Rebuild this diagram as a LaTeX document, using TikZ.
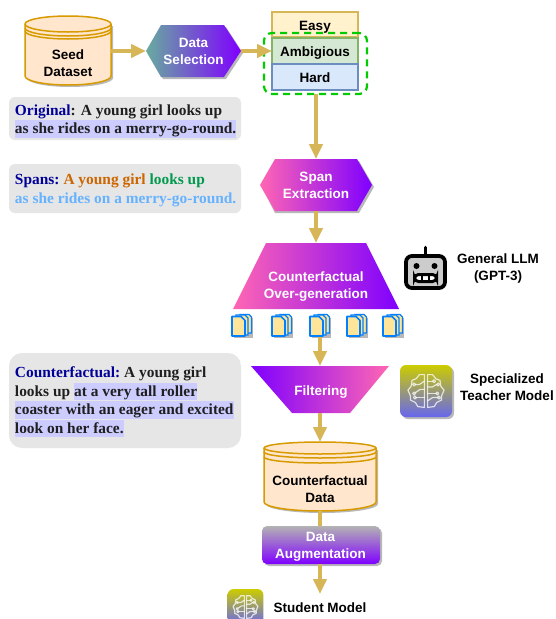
\documentclass[tikz,border=0pt]{standalone}
\usepackage{fontspec}
\setmainfont{Liberation Sans}
\newfontfamily\serifbf{Liberation Serif}[BoldFont={Liberation Serif Bold}]
\usetikzlibrary{arrows.meta,calc}
\definecolor{arrowc}{HTML}{D6B656}
\definecolor{cylfill}{HTML}{FFE6CC}
\definecolor{cylline}{HTML}{D79B00}
\definecolor{shad}{HTML}{B8B8B8}
\definecolor{pinkc}{HTML}{FF66B3}
\definecolor{purpc}{HTML}{7F00FF}
\definecolor{tealc}{HTML}{67AB9F}
\definecolor{panel}{HTML}{E6E6E6}
\definecolor{hl}{HTML}{CCCCFF}
\definecolor{navyc}{HTML}{000099}
\definecolor{orangec}{HTML}{CC6600}
\definecolor{greenc}{HTML}{00994D}
\definecolor{skyc}{HTML}{66B2FF}
\definecolor{inkc}{HTML}{1F1F1F}
\definecolor{docline}{HTML}{007FFF}
\definecolor{docfill}{HTML}{FFE599}
\definecolor{yel}{HTML}{CCCC00}
\definecolor{blu}{HTML}{6666EE}
\definecolor{augtop}{HTML}{B3B3B3}
\tikzset{
  x=1pt,y=-1pt,
  flow/.style={line width=4.3pt,draw=arrowc,-{Triangle[length=15pt,width=13pt]}},
  flowplain/.style={line width=4.3pt,draw=arrowc},
  box/.style={inner sep=0pt,outer sep=0pt},
  lbl/.style={inner sep=0pt,outer sep=0pt,align=center,font=\fontsize{13.5}{17}\selectfont\bfseries},
  wlbl/.style={lbl,text=white},
  tier/.style={lbl,line width=1.4pt,minimum width=86pt,text height=11pt,text depth=0pt},
  paneltxt/.style={anchor=base west,inner sep=0pt,outer sep=0pt,text=inkc,font=\fontsize{15.4}{18}\serifbf\bfseries},
  hlbox/.style={paneltxt,fill=hl,inner ysep=1pt,text depth=3pt,text height=12.5pt},
  panelbox/.style={fill=panel,rounded corners=#1},
  docicon/.pic={
    \fill[shad] (-8,-7) rectangle (11,13);
    \draw[docline,line width=1.4pt,fill=docfill] (-2,-10.5) -- (7,-10.5) -- (9.5,-8) -- (9.5,8) -- (-2,8) -- cycle;
    \draw[docline,line width=1.4pt,fill=docfill] (-6,-10) -- (3,-10) -- (6,-7) -- (6,10) -- (-6,10) -- cycle;
    \draw[docline,line width=1.7pt,fill=docfill,line join=round] (-10,-8.5) -- (-1,-8.5) -- (3,-4.5) -- (3,11) -- (-10,11) -- cycle;
  },
  brainicon/.pic={
    \shade[top color=yel,bottom color=blu,rounded corners=6pt] (-26,-26) rectangle (26,26);
    \begin{scope}[scale=.82,draw=white,draw opacity=.75,line width=1.2pt,line join=round,line cap=round]
      \draw (-2,-20) -- (-8,-20) -- (-12,-15) -- (-17,-13) -- (-18,-6) -- (-22,-1) -- (-19,6) -- (-19,11) -- (-13,14) -- (-10,19) -- (-2,20) -- cycle;
      \draw (2,-20) -- (8,-20) -- (12,-15) -- (17,-13) -- (18,-6) -- (22,-1) -- (19,6) -- (19,11) -- (13,14) -- (10,19) -- (2,20) -- cycle;
      \draw (-2,-12) -- (-8,-8) -- (-13,-8);
      \draw (-2,-2) -- (-7,-2) -- (-13,2);
      \draw (-2,8) -- (-6,8) -- (-12,8);
      \draw (2,-12) -- (8,-12);
      \draw (2,-5) -- (8,-5) -- (13,-8);
      \draw (2,3) -- (12,3);
      \draw (2,12) -- (8,8) -- (14,8);
      \draw[fill=none] (-14.5,-8) circle (1.8) (-14.5,3) circle (1.8) (-13.5,8) circle (1.8) (9.8,-12) circle (1.8) (14.8,-8) circle (1.8) (13.8,3) circle (1.8) (15.8,8) circle (1.8);
    \end{scope}
  },
}
\newcommand{\cyl}[7]{% left right top ellipsebottom ring1 ring2 bottom
  \pgfmathsetmacro{\cx}{(#1+#2)/2}\pgfmathsetmacro{\rx}{(#2-#1)/2}\pgfmathsetmacro{\ry}{(#4-#3)/2}\pgfmathsetmacro{\my}{(#3+#4)/2}\pgfmathsetmacro{\by}{#7-9}
  \fill[shad] (#1+2,\my+2) -- (#1+2,\by+2) arc[start angle=180,end angle=360,x radius=\rx,y radius=-9] -- (#2+2,\my+2) -- cycle;
  \draw[cylline,line width=1.5pt,fill=cylfill] (#1,\my) -- (#1,\by) arc[start angle=180,end angle=360,x radius=\rx,y radius=-9] -- (#2,\my) arc[start angle=0,end angle=180,x radius=\rx,y radius=\ry*-1] -- cycle;
  \draw[cylline,line width=1.5pt] (#1,\my) arc[start angle=180,end angle=360,x radius=\rx,y radius=-\ry];
  \draw[cylline,line width=1.5pt] (#1,#5-\ry) arc[start angle=180,end angle=360,x radius=\rx,y radius=-\ry];
  \draw[cylline,line width=1.5pt] (#1,#6-\ry) arc[start angle=180,end angle=360,x radius=\rx,y radius=-\ry];
}
\begin{document}
\begin{tikzpicture}
\useasboundingbox (0,0) rectangle (555,619);
\fill[white] (0,0) rectangle (555,619);

% text panels
\fill[panelbox=6pt] (9,97) rectangle (241,140);
\fill[panelbox=6pt] (9,164) rectangle (241,213);
\fill[panelbox=13pt] (9,353) rectangle (241,448);

% seed dataset
\cyl{25}{111}{16}{32}{36}{39}{85}
\node[box,minimum width=86pt,minimum height=70pt] (seed) at (68,51) {};
\node[lbl] (seedtxt) at (68,63.5) {Seed\\Dataset};

% data selection
\fill[shad] (148,53) -- (163,27) -- (226,27) -- (243,53) -- (226,79) -- (163,79) -- cycle;
\shade[left color=tealc,right color=purpc] (146,51) -- (161,25) -- (224,25) -- (241,51) -- (224,77) -- (161,77) -- cycle;
\node[box,minimum width=95pt,minimum height=52pt] (select) at (193.5,51) {};
\node[wlbl] (selecttxt) at (193.5,51.5) {Data\\Selection};

% difficulty boxes
\node[tier,draw={rgb,255:red,214;green,182;blue,86},fill={rgb,255:red,255;green,242;blue,204},minimum height=25pt] (easy) at (315,24.5) {Easy};
\node[tier,draw={rgb,255:red,130;green,179;blue,102},fill={rgb,255:red,213;green,232;blue,212},minimum height=26pt] (ambig) at (315,51) {Ambigious};
\node[tier,draw={rgb,255:red,108;green,142;blue,191},fill={rgb,255:red,218;green,232;blue,252},minimum height=26pt] (hard) at (315,77) {Hard};
\node[draw={rgb,255:red,0;green,204;blue,0},line width=2.2pt,dash pattern=on 7pt off 5pt,rounded corners=8pt,minimum width=103pt,minimum height=61pt,inner sep=0pt,outer sep=0pt] (group) at (315.5,63.5) {};

% span extraction
\fill[shad] (262,187) -- (275,161) -- (359,161) -- (374,187) -- (359,213) -- (275,213) -- cycle;
\shade[left color=pinkc,right color=purpc] (260,185) -- (275,159) -- (357,159) -- (372,185) -- (357,211) -- (275,211) -- cycle;
\node[box,minimum width=112pt,minimum height=52pt] (span) at (316,185) {};
\node[wlbl] (spantxt) at (316,185.5) {Span\\Extraction};

% over-generation
\shade[left color=pinkc,right color=purpc] (266,243) -- (366,243) -- (399,309) -- (233,309) -- cycle;
\node[box,minimum width=166pt,minimum height=66pt] (overgen) at (316,276) {};
\node[wlbl] (overgentxt) at (316,286.5) {Counterfactual\\Over-generation};

% documents
\pic at (242,325) {docicon};
\pic at (282,325) {docicon};
\pic at (320,325) {docicon};
\pic at (357,325) {docicon};
\pic at (393,325) {docicon};
\coordinate (docs) at (320,337);

% filtering
\shade[left color=purpc,right color=pinkc] (251,366) -- (389,366) -- (350,413) -- (292,413) -- cycle;
\node[box,minimum width=138pt,minimum height=47pt] (filter) at (320,389.5) {};
\node[wlbl] (filtertxt) at (321,392.5) {Filtering};

% counterfactual data
\cyl{264}{376}{442}{454}{458}{463}{511}
\node[box,minimum width=112pt,minimum height=69pt] (cfdata) at (320,476.5) {};
\node[lbl] (cfdatatxt) at (320,489.5) {Counterfactual\\Data};

% data augmentation
\fill[shad,rounded corners=5pt] (264,528) rectangle (382,566);
\shade[top color=augtop,bottom color=purpc,rounded corners=5pt] (262,526) rectangle (380,564);
\node[box,minimum width=118pt,minimum height=38pt] (aug) at (321,545) {};
\node[wlbl] (augtxt) at (320.5,547) {Data\\Augmentation};

% connectors
\coordinate (student) at (320,594);
\draw[flow] (seed.east) -- (select.west);
\draw[flow] (select.east) -- (ambig.west);
\draw[flow] (group.south -| span.north) -- (span.north);
\draw[flow] (span.south) -- (overgen.north);
\draw[flow] (docs) -- (docs |- filter.north);
\draw[flow] (filter.south) -- (filter.south |- cfdata.north);
\draw[flowplain] (cfdata.south) -- (aug.north -| cfdata.south);
\draw[flow] (aug.south -| student) -- (student);

% panel text: Original
\node[paneltxt,text=navyc] (o1) at (15,115) {Original};
\node[paneltxt] (o1b) at (o1.base east) {: A young girl looks up};
\node[hlbox] (o2) at (15,133.5) {as she rides on a merry-go-round.};

% panel text: Spans
\node[paneltxt,text=navyc] (s1) at (15,184) {Spans:};
\node[paneltxt,text=orangec] (s1b) at ([xshift=4pt]s1.base east) {A young girl};
\node[paneltxt,text=greenc] (s1c) at ([xshift=4pt]s1b.base east) {looks up};
\node[paneltxt,text=skyc] (s2) at (15,203) {as she rides on a merry-go-round.};

% panel text: Counterfactual
\node[paneltxt,text=navyc] (c1) at (15,377) {Counterfactual:};
\node[paneltxt] (c1b) at ([xshift=4pt]c1.base east) {A young girl};
\node[paneltxt] (c2) at (15,396) {looks up};
\node[hlbox] (c2b) at ([xshift=4pt]c2.base east) {at a very tall roller};
\node[hlbox] (c3) at (15,414.5) {coaster with an eager and excited};
\node[hlbox] (c4) at (15,433) {look on her face.};

% robot
\begin{scope}[shift={(425.5,270)}]
  \draw[black,line width=3.6pt,line cap=round] (0,-14) -- (0,-22.5);
  \draw[black,line width=3.8pt,fill={rgb,255:red,204;green,204;blue,204},rounded corners=6pt] (-19.5,-14) rectangle (19.5,18);
  \fill[black] (-9,-4) circle (3) (9,-4) circle (3);
  \draw[black,line width=3pt,fill=white,rounded corners=4pt] (-11,4.5) rectangle (11,11.5);
  \draw[black,line width=2pt] (-3.5,4.5) -- (-3.5,11.5) (3.5,4.5) -- (3.5,11.5);
\end{scope}
\node[lbl] (gpt) at (498,268.5) {General LLM\\(GPT-3)};

% teacher
\fill[shad,rounded corners=6pt] (402,367) rectangle (454,419);
\pic at (426,391) {brainicon};
\node[lbl] (teacher) at (507,387.5) {Specialized\\Teacher Model};

% student
\begin{scope}
  \clip (220,585) rectangle (280,619);
  \pic[scale=.69] at (245.5,607) {brainicon};
\end{scope}
\node[lbl] (studentlbl) at (320,607.5) {Student Model};
\end{tikzpicture}
\end{document}
